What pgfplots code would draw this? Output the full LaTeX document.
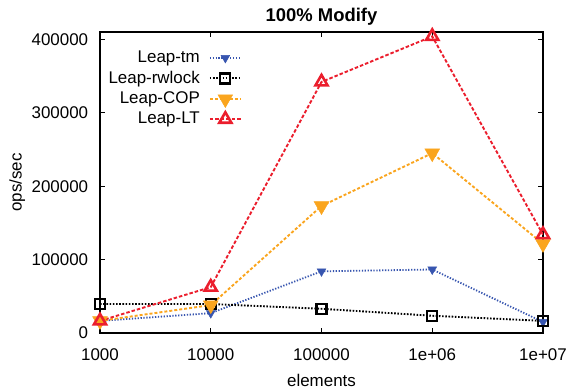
\documentclass[border=0pt]{standalone}
\usepackage{fontspec}
\setmainfont{Liberation Sans}
\usepackage{pgfplots}
\pgfplotsset{compat=1.18}
\definecolor{cblue}{RGB}{55,85,175}
\definecolor{corange}{RGB}{250,165,30}
\definecolor{cred}{RGB}{235,30,45}
\begin{document}
\fontsize{17}{20}\selectfont
\begin{tikzpicture}
\begin{axis}[
  scale only axis,
  width=443bp, height=301bp,
  xmode=log,
  xmin=1000, xmax=10000000,
  ymin=0, ymax=410000,
  xtick={1000,10000,100000,1000000,10000000},
  xticklabels={1000,10000,100000,1e+06,1e+07},
  ytick={0,100000,200000,300000,400000},
  yticklabels={0,100000,200000,300000,400000},
  scaled y ticks=false,
  minor xtick={}, minor ytick={},
  log basis x=10,
  /pgf/number format/assume math mode=true,
  tick label style={font=\fontsize{17}{20}\selectfont},
  xticklabel style={yshift=-10bp},
  yticklabel style={xshift=-6bp},
  tick align=inside,
  major tick length=5bp,
  axis line style={line width=1.2bp},
  every tick/.style={line width=0.9bp, black},
  title={\textbf{100\% Modify}},
  title style={font=\fontsize{18.5}{21}\selectfont, at={(axis description cs:0.5,1.032)}, anchor=center},
  xlabel={elements},
  ylabel={ops/sec},
  every axis x label/.style={at={(axis description cs:0.5,-0.158)}, anchor=center, font=\fontsize{17}{20}\selectfont},
  every axis y label/.style={at={(axis description cs:-0.187,0.5)}, rotate=90, anchor=center, font=\fontsize{17}{20}\selectfont},
  legend plot pos=right,
  legend cell align=right,
  legend style={at={(axis description cs:0.012,0.948)}, anchor=north west, draw=none, fill=none,
    font=\fontsize{17}{20}\selectfont, row sep=2bp, column sep=7bp, inner sep=1bp},
  legend image code/.code={%
    \draw[mark repeat=2,mark phase=2,#1] plot coordinates {(0cm,0cm) (0.55cm,0cm) (1.1cm,0cm)};},
]
\addplot[cblue, line width=1.8bp, dash pattern=on 1.3bp off 1.6bp, mark=triangle*, mark size=5bp,
  mark options={solid, rotate=180, fill=cblue, draw=cblue, line width=0.5bp}]
  coordinates {(1000,16500) (10000,27000) (100000,84000) (1000000,86500) (10000000,15000)};
\addlegendentry{Leap-tm}
\addplot[black, line width=1.9bp, dash pattern=on 1.6bp off 1.6bp, mark=square, mark size=5bp,
  mark options={solid, line width=2.2bp}]
  coordinates {(1000,39500) (10000,39500) (100000,33000) (1000000,23500) (10000000,16500)};
\addlegendentry{Leap-rwlock}
\addplot[corange, line width=1.9bp, dash pattern=on 3bp off 2bp, mark=triangle*, mark size=8.5bp,
  mark options={solid, rotate=180, fill=corange, draw=corange, line width=0.5bp}]
  coordinates {(1000,16500) (10000,38000) (100000,173000) (1000000,245000) (10000000,121500)};
\addlegendentry{Leap-COP}
\addplot[cred, line width=1.9bp, dash pattern=on 3.5bp off 2bp, mark=triangle, mark size=7bp,
  mark options={solid, line width=2.6bp}]
  coordinates {(1000,16500) (10000,62500) (100000,342000) (1000000,404000) (10000000,134000)};
\addlegendentry{Leap-LT}
\end{axis}
\pgfresetboundingbox
\path (current axis.south west) ++(-100bp,-58bp) rectangle ([shift={(27bp,32bp)}]current axis.north east);
\end{tikzpicture}
\end{document}
